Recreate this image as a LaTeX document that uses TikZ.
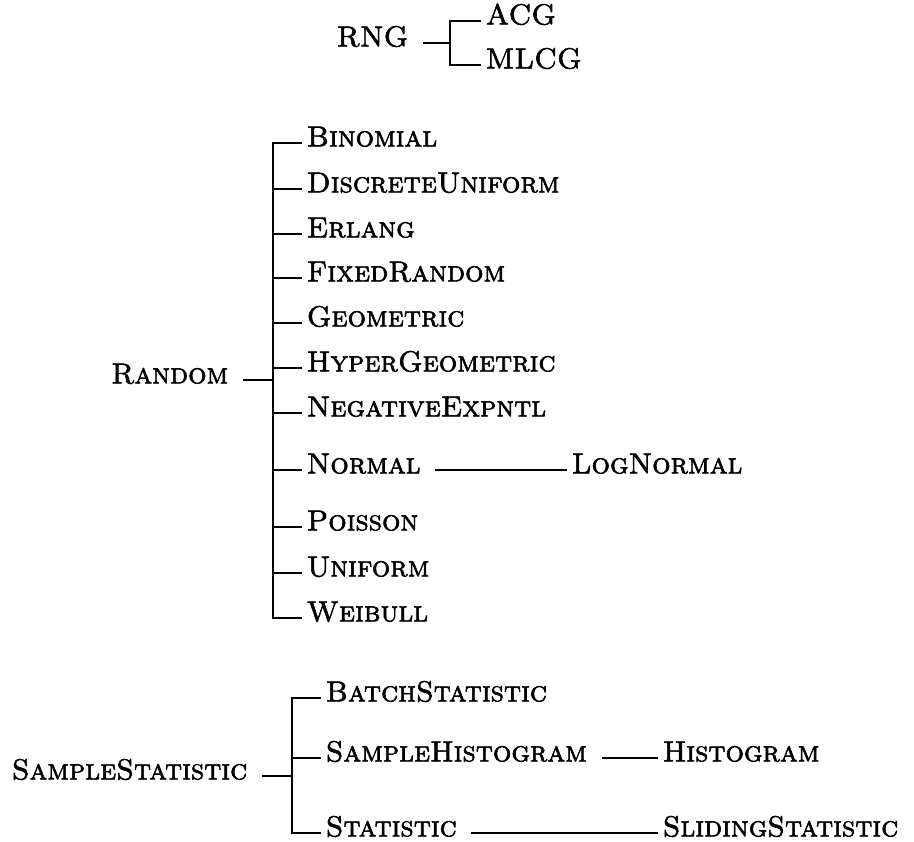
\documentclass[tikz,border=0pt]{standalone}
\usepackage{fontspec}
\usepackage{tikz}

\newfontfamily\clsfont{lmromancaps10-regular.otf}[FakeBold=2]

\tikzset{
  cls/.style={inner sep=4pt, font=\fontsize{29}{32}\selectfont\clsfont,
    text height=0.68em, text depth=0pt},
  sub/.style={cls, anchor=west},
  super/.style={cls, anchor=east},
  link/.style={shorten <=10pt},
}

\begin{document}
\begin{tikzpicture}[x=1pt, y=-1pt, line width=1.5pt]
    \useasboundingbox (0,0) rectangle (914,842);
    % bar points
    \coordinate (rngbar) at (450,43);
    \coordinate (randombar) at (273,380);
    \coordinate (samplebar) at (292,776);

    % RNG
    \node[super] (RNG) at (413,43) {RNG};
    \node[sub] (ACG) at (481,21) {ACG};
    \node[sub] (MLCG) at (481,65) {MLCG};
    \draw[link] (RNG) -- (rngbar);
    \draw (ACG) -| (rngbar);
    \draw (MLCG) -| (rngbar);

    % Random
    \node[super] (Random) at (233,380) {Random};
    \foreach \cls/\ypos in {Binomial/143, DiscreteUniform/189, Erlang/234,
        FixedRandom/278, Geometric/323, HyperGeometric/368,
        NegativeExpntl/413, Normal/470, Poisson/527, Uniform/573,
        Weibull/618} {
      \node[sub] (\cls) at (302,\ypos) {\cls};
      \draw (\cls) -| (randombar);
    }
    \draw[link] (Random) -- (randombar);
    \node[sub] (LogNormal) at (567,470) {LogNormal};
    \draw[link] (Normal) -- (LogNormal);

    % SampleStatistic
    \node[super] (SampleStatistic) at (252,776) {SampleStatistic};
    \node[sub] (BatchStatistic) at (321,698) {BatchStatistic};
    \node[sub] (SampleHistogram) at (321,758) {SampleHistogram};
    \node[sub] (Statistic) at (321,833) {Statistic};
    \draw[link] (SampleStatistic) -- (samplebar);
    \draw (BatchStatistic) -| (samplebar);
    \draw (SampleHistogram) -| (samplebar);
    \draw (Statistic) -| (samplebar);
    \node[sub] (Histogram) at (658,758) {Histogram};
    \node[sub] (SlidingStatistic) at (658,833) {SlidingStatistic};
    \draw[link] (SampleHistogram) -- (Histogram);
    \draw[link] (Statistic) -- (SlidingStatistic);
\end{tikzpicture}
\end{document}
